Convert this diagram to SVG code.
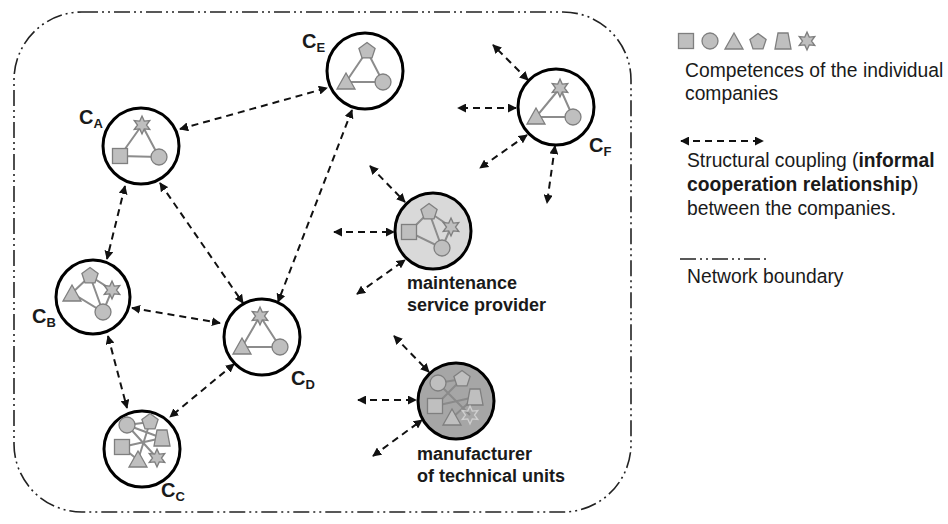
<svg xmlns="http://www.w3.org/2000/svg" width="948" height="524" viewBox="0 0 948 524">
<style>
.t{font-family:"Liberation Sans",Arial,sans-serif;fill:#1a1a1a}
.lg{font-size:19.3px}
.nl{font-size:18px;font-weight:bold}
.cl{font-size:20px;font-weight:bold}
.sub{font-size:13px;font-weight:bold}
.node{fill:#fff;stroke:#000;stroke-width:3}
.sh{fill:#bfbfbf;stroke:#7f7f7f;stroke-width:1.3}
.il{stroke:#8c8c8c;stroke-width:2;fill:none}
.cn{stroke:#111;stroke-width:2;stroke-dasharray:7 5;fill:none;marker-start:url(#ah);marker-end:url(#ah)}
.bd{fill:none;stroke:#222;stroke-width:1.6;stroke-dasharray:16 4 2 4 2 4}
</style>
<defs>
<marker id="ah" viewBox="0 0 10 10" refX="9" refY="5" markerWidth="9" markerHeight="9" markerUnits="userSpaceOnUse" orient="auto-start-reverse">
<path d="M0,0 L10,5 L0,10 z" fill="#111"/>
</marker>
<rect id="sq" x="-7.5" y="-7.5" width="15" height="15"/>
<circle id="ci" r="8"/>
<polygon id="tri" points="0,-9 9,7 -9,7"/>
<polygon id="pe" points="0,-8.5 8.1,-2.6 5,6.9 -5,6.9 -8.1,-2.6"/>
<polygon id="tr" points="-5,-8 5,-8 8,8 -8,8"/>
<polygon id="st" points="0,-9 2.25,-3.9 7.79,-4.5 4.5,0 7.79,4.5 2.25,3.9 0,9 -2.25,3.9 -7.79,4.5 -4.5,0 -7.79,-4.5 -2.25,-3.9"/>
</defs>

<g id="boundary">
<rect class="bd" x="14" y="12" width="617" height="500" rx="68" ry="68"/>
</g>

<g id="connectors">
<line class="cn" x1="180" y1="129" x2="327" y2="88"/>
<line class="cn" x1="125" y1="186" x2="107" y2="259"/>
<line class="cn" x1="160" y1="183" x2="243" y2="303"/>
<line class="cn" x1="352" y1="110" x2="278" y2="302"/>
<line class="cn" x1="132" y1="308" x2="220" y2="323"/>
<line class="cn" x1="108" y1="336" x2="127" y2="408"/>
<line class="cn" x1="234" y1="364" x2="170" y2="417"/>
<line class="cn" x1="528" y1="80" x2="493" y2="45"/>
<line class="cn" x1="516" y1="108" x2="458" y2="108"/>
<line class="cn" x1="527" y1="135" x2="480" y2="168"/>
<line class="cn" x1="555" y1="146" x2="547" y2="203"/>
<line class="cn" x1="370" y1="166" x2="405" y2="202"/>
<line class="cn" x1="334" y1="232" x2="394" y2="232"/>
<line class="cn" x1="357" y1="294" x2="405" y2="260"/>
<line class="cn" x1="394" y1="336" x2="429" y2="372"/>
<line class="cn" x1="358" y1="400" x2="416" y2="400"/>
<line class="cn" x1="373" y1="456" x2="422" y2="420"/>
</g>

<g id="node-CA">
<circle class="node" cx="141" cy="146" r="38"/>
<path class="il" d="M142,125 L120,156 L159,157 Z"/>
<use href="#st" class="sh" x="142" y="125"/>
<use href="#sq" class="sh" x="120" y="156"/>
<use href="#ci" class="sh" x="159" y="157"/>
<text class="t cl" x="79" y="124">C<tspan class="sub" dy="4">A</tspan></text>
</g>

<g id="node-CE">
<circle class="node" cx="365" cy="71" r="38"/>
<path class="il" d="M367,51 L346,82 L383,82 Z"/>
<use href="#pe" class="sh" x="367" y="51"/>
<use href="#tri" class="sh" x="346" y="82"/>
<use href="#ci" class="sh" x="383" y="82"/>
<text class="t cl" x="302" y="48">C<tspan class="sub" dy="4">E</tspan></text>
</g>

<g id="node-CF">
<circle class="node" cx="556" cy="107" r="38"/>
<path class="il" d="M560,88 L536,117 L573,117 Z"/>
<use href="#st" class="sh" x="560" y="88"/>
<use href="#tri" class="sh" x="536" y="117"/>
<use href="#ci" class="sh" x="573" y="117"/>
<text class="t cl" x="589" y="152">C<tspan class="sub" dy="4">F</tspan></text>
</g>

<g id="node-CB">
<circle class="node" cx="93" cy="297" r="37"/>
<path class="il" d="M72,293 L90,276 L112,290 L103,312 Z M90,276 L103,312"/>
<use href="#pe" class="sh" x="90" y="276"/>
<use href="#st" class="sh" x="112" y="290"/>
<use href="#tri" class="sh" x="72" y="294"/>
<use href="#ci" class="sh" x="103" y="312"/>
<text class="t cl" x="32" y="323">C<tspan class="sub" dy="4">B</tspan></text>
</g>

<g id="node-CD">
<circle class="node" cx="262" cy="337" r="38"/>
<path class="il" d="M260,316 L242,347 L280,347 Z"/>
<use href="#st" class="sh" x="260" y="316"/>
<use href="#tri" class="sh" x="242" y="347"/>
<use href="#ci" class="sh" x="280" y="347"/>
<text class="t cl" x="291" y="385">C<tspan class="sub" dy="4">D</tspan></text>
</g>

<g id="node-CC">
<circle class="node" cx="142" cy="449" r="38"/>
<path class="il" d="M127,425 L150,422 M127,425 L162,438 M127,425 L157,458 M122,447 L162,438 M122,447 L138,460 M150,422 L138,460"/>
<use href="#ci" class="sh" x="127" y="425"/>
<use href="#pe" class="sh" x="150" y="422"/>
<use href="#tr" class="sh" x="162" y="438"/>
<use href="#sq" class="sh" x="122" y="447"/>
<use href="#tri" class="sh" x="138" y="460"/>
<use href="#st" class="sh" x="157" y="458"/>
<text class="t cl" x="161" y="497">C<tspan class="sub" dy="4">C</tspan></text>
</g>

<g id="node-maintenance">
<circle class="node" cx="433" cy="231" r="38" style="fill:#d9d9d9"/>
<path class="il" d="M409,232 L429,212 L442,248 Z M429,212 L451,227 L442,248"/>
<use href="#sq" class="sh" x="409" y="232"/>
<use href="#pe" class="sh" x="429" y="212"/>
<use href="#st" class="sh" x="451" y="227"/>
<use href="#ci" class="sh" x="442" y="248"/>
<text class="t nl" x="407" y="289">maintenance</text>
<text class="t nl" x="407" y="311">service provider</text>
</g>

<g id="node-manufacturer">
<circle class="node" cx="456" cy="401" r="38" style="fill:#a6a6a6"/>
<path class="il" d="M438,383 L462,379 M438,383 L470,415 M435,406 L475,397 M462,379 L435,406 M452,418 L475,397" style="stroke:#8a8a8a"/>
<use href="#ci" class="sh" x="438" y="383"/>
<use href="#pe" class="sh" x="462" y="379"/>
<use href="#tr" class="sh" x="475" y="397"/>
<use href="#sq" class="sh" x="435" y="406"/>
<use href="#tri" class="sh" x="452" y="418"/>
<use href="#st" x="470" y="415" style="fill:none;stroke:#cfcfcf;stroke-width:1.3"/>
<text class="t nl" x="417" y="460">manufacturer</text>
<text class="t nl" x="417" y="482">of technical units</text>
</g>

<g id="legend">
<use href="#sq" class="sh" x="686" y="41"/>
<use href="#ci" class="sh" x="710" y="41"/>
<use href="#tri" class="sh" x="734" y="42"/>
<use href="#pe" class="sh" x="758" y="42"/>
<use href="#tr" class="sh" x="783" y="41"/>
<use href="#st" class="sh" x="807" y="41"/>
<text class="t lg" x="685" y="77">Competences of the individual</text>
<text class="t lg" x="685" y="100">companies</text>
<line class="cn" x1="681" y1="141" x2="763" y2="141"/>
<text class="t lg" x="687" y="167">Structural coupling (<tspan font-weight="bold">informal</tspan></text>
<text class="t lg" x="687" y="191"><tspan font-weight="bold">cooperation relationship</tspan>)</text>
<text class="t lg" x="687" y="215">between the companies.</text>
<line class="bd" x1="680" y1="259" x2="766" y2="259"/>
<text class="t lg" x="687" y="283">Network boundary</text>
</g>
</svg>
